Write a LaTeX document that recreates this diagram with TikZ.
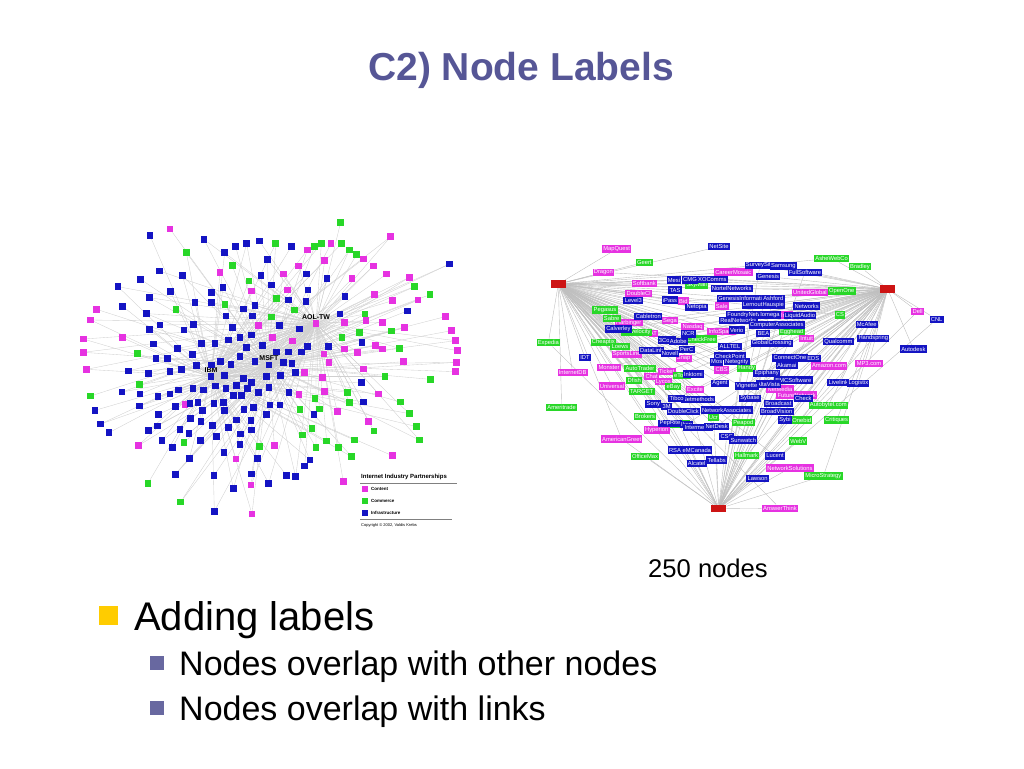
\documentclass[tikz,border=0pt]{standalone}
\usepackage{fontspec}
\setmainfont{Liberation Sans}
\usetikzlibrary{backgrounds}
\definecolor{titlecol}{RGB}{86,86,150}
\definecolor{subcol}{RGB}{104,104,160}
\definecolor{bulletyel}{RGB}{255,204,0}
\definecolor{pk}{RGB}{230,50,225}
\definecolor{gn}{RGB}{40,215,40}
\definecolor{bl}{RGB}{20,20,195}
\definecolor{hubred}{RGB}{205,20,20}
\tikzset{
  sq/.style={minimum size=6.5pt, inner sep=0pt},
  edge/.style={draw=gray!38, line width=0.35pt},
  redge/.style={draw=gray!50, line width=0.4pt},
  hublab/.style={font=\bfseries\fontsize{7}{7}\selectfont, inner sep=0.5pt},
  lab/.style={font=\fontsize{5.8}{6}\selectfont, text=white, inner xsep=1.3pt, inner ysep=0pt, minimum height=7.5pt},
  hub/.style={fill=hubred, minimum width=15pt, minimum height=7.5pt, inner sep=0pt},
  legtxt/.style={font=\bfseries\fontsize{4.5}{5}\selectfont, anchor=west, inner sep=0pt}
}
\def\pinkL{300/57, 962/80, 450/187, 640/192, 686/168, 712/120, 783/100, 764/152, 880/147, 910/168, 950/192, 1018/202, 846/206, 545/243, 652/240, 913/253, 968/272, 1044/270, 80/298, 62/330, 1126/320, 888/332, 937/337, 1004/353, 1144/362, 40/387, 157/383, 40/427, 566/347, 608/382, 668/393, 824/337, 823/417, 762/432, 777/458, 916/407, 938/417, 863/427, 1000/455, 1157/392, 1162/422, 1160/457, 1157/485, 50/478, 704/487, 757/502, 880/477, 687/553, 764/545, 926/552, 345/583, 802/605, 896/635, 205/707, 613/707, 498/747, 967/737, 543/825, 820/815, 546/912}
\def\greenL{812/37, 617/101, 734/109, 754/101, 815/101, 838/120, 860/133, 349/128, 487/167, 537/213, 620/265, 465/283, 674/300, 604/321, 318/298, 1034/230, 1080/254, 885/312, 816/383, 868/368, 965/363, 988/415, 203/431, 208/524, 62/558, 945/500, 1081/508, 832/547, 735/566, 838/577, 748/597, 690/598, 991/576, 1018/611, 1040/650, 1048/690, 912/663, 726/655, 698/675, 770/693, 853/690, 738/713, 806/712, 845/740, 342/698, 568/710, 234/820, 332/876}
\def\blueL{240/77, 402/88, 568/93, 530/101, 497/110, 464/128, 664/110, 593/148, 268/183, 337/196, 212/208, 144/230, 301/245, 239/263, 424/248, 459/233, 573/197, 604/225, 710/192, 771/205, 714/240, 655/270, 708/275, 825/260, 158/289, 230/311, 270/345, 238/358, 342/360, 371/343, 375/278, 425/278, 468/318, 487/352, 520/297, 555/286, 548/318, 628/347, 688/357, 810/312, 1012/303, 1139/162, 250/402, 322/415, 395/400, 435/400, 475/390, 510/382, 544/375, 577/406, 620/426, 656/426, 694/426, 712/410, 776/410, 876/398, 530/412, 258/445, 292/446, 368/434, 425/465, 451/455, 483/463, 510/440, 555/455, 640/458, 666/460, 175/483, 236/490, 300/485, 335/478, 380/467, 463/497, 520/505, 545/517, 590/500, 631/497, 676/487, 874/518, 156/546, 210/552, 264/560, 300/552, 326/540, 369/535, 400/540, 437/528, 468/535, 500/527, 532/536, 566/548, 597/533, 657/548, 208/588, 265/613, 316/590, 360/580, 384/578, 398/601, 432/580, 460/578, 490/557, 515/557, 522/598, 550/592, 600/585, 630/585, 881/576, 75/601, 92/642, 117/668, 236/661, 262/648, 362/625, 393/635, 427/647, 463/602, 500/630, 543/632, 590/614, 330/658, 357/670, 475/652, 512/672, 545/660, 276/692, 307/713, 391/691, 440/680, 510/703, 462/728, 358/745, 563/746, 316/793, 432/797, 490/836, 545/792, 596/820, 650/797, 677/800, 704/768, 720/750, 732/614, 433/904}
\def\pinkR{260/57/MapQuest, 220/127/Dragon, 610/126/CareerMosaic, 343/160/Softbank, 326/190/DoubleCl, 460/213/Bid, 575/228/Sale, 296/278/Harbinger, 420/272/Sega, 488/290/Nasdaq, 575/305/InfoSpace, 370/310/AT, 840/188/UnitedGlobal, 830/325/Intuit, 770/255/Intel, 290/373/SportsLine, 128/428/InternetDB, 237/412/Monster, 246/468/Universal, 365/440/Chat, 410/425/Ticket, 400/455/Lycos, 495/478/Excite, 461/385/Snap, 575/420/CBS, 897/408/Amazon.com, 1017/400/MP3.com, 1163/244/Dell, 380/600/Hyperion, 275/627/AmericanGreet, 780/714/NetworkSolutions, 750/477/NetMedia, 800/495/FutureNetwork, 750/835/AnswerThink}
\def\greenR{343/97/Geert, 905/85/AsheWebCo, 990/110/Bradley, 935/183/OpenOne, 500/165/SkyMall, 225/240/Pegasus, 245/265/Sabre, 55/338/Expedia, 220/337/Cheaptix, 320/307/Travelocity, 515/327/CheckFree, 270/350/Loews, 330/415/AutoTrader, 313/452/Dfish, 335/485/TARGET, 455/437/eToys, 430/470/eBay, 650/415/Handy, 785/305/Egghead, 930/255/CS, 95/533/Ameritrade, 345/560/Brokers, 450/582/Etrade, 550/563/Ucr, 640/578/Peapod, 815/570/Onebid, 920/570/Critiques, 895/526/Autobytel.com, 345/680/OfficeMax, 650/676/Hallmark, 805/633/WebV, 880/738/MicroStrategy}
\def\blueR{567/50/NetSite, 690/106/SurveySite, 760/108/Samsung, 825/127/FullSoftware, 715/140/Genesis, 432/150/Mesi, 480/150/CMG, 547/148/XOComms, 435/180/TAS, 605/176/NortelNetworks, 310/212/Level3, 640/205/GenesisInformation, 420/210/iPass, 730/205/Ashford, 500/232/Netopia, 700/225/LernoutHauspie, 830/228/Networks, 660/255/FoundryNetworks, 720/255/Iomega, 810/257/LiquidAudio, 355/260/Cabletron, 265/297/Calverley, 625/272/RealNetworks, 740/285/ComputerAssociates, 620/300/Verio, 475/312/NCR, 700/310/BEA, 410/330/3Com, 445/335/Adobe, 725/340/GlobalCrossing, 600/350/ALLTEL, 470/358/PerC, 365/362/DataLink, 600/378/CheckPoint, 420/370/Novell, 780/384/ConnectOne, 850/385/EDS, 560/396/Mos, 620/395/Netegrity, 770/405/Akamai, 490/432/Inktomi, 710/430/Epiphany, 790/450/BMCSoftware, 715/462/AltaVista, 570/460/Agent, 650/468/Vignette, 505/508/Netmethods, 440/506/Tibco, 370/522/Sony, 410/530/3M, 460/545/DoubleClick, 590/540/NetworkAssociates, 660/505/Sybase, 745/520/Broadcast, 740/545/BroadVision, 765/570/Sybi, 420/580/PepRite, 470/583/Ikon, 505/592/Intermedia, 560/590/NetDesk, 590/620/CSC, 640/630/Sunwatch, 480/660/RSA eMCanada, 560/690/Tellabs, 500/700/Alcatel, 735/678/Lucent, 683/745/Lawson, 1010/283/McAfee, 925/335/Qualcomm, 1030/325/Handspring, 1150/357/Autodesk, 1220/268/CNL, 165/383/IDT, 925/457/Livelink, 985/460/Logistix, 820/505/Check}
\begin{document}
\begin{tikzpicture}[x=1pt,y=-1pt]
  \useasboundingbox (0,0) rectangle (1024,768);
  \node[anchor=base, font=\bfseries\fontsize{39}{44}\selectfont, text=titlecol, inner sep=0pt] (title) at (521,81) {C2) Node Labels};

  % left picture
  \begin{scope}[shift={(70,210)}, scale=1/3]
    \node[sq, fill=bl, label={[hublab]above:IBM}] (h0) at (423,500) {};
    \node[sq, fill=bl, label={[hublab]above:MSFT}] (h1) at (597,465) {};
    \node[sq, fill=pk, label={[hublab]above:AOL-TW}] (h2) at (738,340) {};
    \foreach \x/\y [count=\i] in \pinkL {\node[sq, fill=pk] (p\i) at (\x,\y) {};}
    \foreach \x/\y [count=\i] in \greenL {\node[sq, fill=gn] (g\i) at (\x,\y) {};}
    \foreach \x/\y [count=\i] in \blueL {\node[sq, fill=bl] (b\i) at (\x,\y) {};}
    \begin{pgfonlayer}{background}
      \foreach \x/\y [count=\i] in \pinkL {
        \pgfmathtruncatemacro\k{mod(\i,3)}
        \pgfmathtruncatemacro\kk{mod(\i+1,3)}
        \draw[edge] (p\i) -- (h\k);
        \ifodd\i\else\draw[edge] (p\i) -- (h\kk);\fi
      }
      \foreach \x/\y [count=\i] in \greenL {
        \pgfmathtruncatemacro\k{mod(\i+1,3)}
        \pgfmathtruncatemacro\kk{mod(\i+2,3)}
        \draw[edge] (g\i) -- (h\k);
        \ifodd\i\else\draw[edge] (g\i) -- (h\kk);\fi
      }
      \foreach \x/\y [count=\i] in \blueL {
        \pgfmathtruncatemacro\k{mod(\i+2,3)}
        \pgfmathtruncatemacro\kk{mod(\i,3)}
        \draw[edge] (b\i) -- (h\k);
        \ifodd\i\else\draw[edge] (b\i) -- (h\kk);\fi
      }
    \end{pgfonlayer}
  \end{scope}

  % legend
  \node[legtxt, font=\bfseries\fontsize{6}{6}\selectfont] (legtitle) at (361,477) {Internet Industry Partnerships};
  \draw[gray, line width=0.4pt] (360,483) -- (457,483);
  \node[sq, fill=pk] (lc) at (365,489) {};
  \node[legtxt] (lct) at (371,489) {Content};
  \node[sq, fill=gn] (lm) at (365,501) {};
  \node[legtxt] (lmt) at (371,501) {Commerce};
  \node[sq, fill=bl] (li) at (365,513) {};
  \node[legtxt] (lit) at (371,513) {Infrastructure};
  \draw[gray, line width=0.4pt] (360,519) -- (452,519);
  \node[legtxt, font=\fontsize{4}{4}\selectfont] (copy) at (361,525) {Copyright © 2002, Valdis Krebs};

  % right picture
  \begin{scope}[shift={(530,230)}, scale=1/3]
    \node[hub] (q0) at (85,162) {};
    \node[hub] (q1) at (1073,177) {};
    \node[hub] (q2) at (566,836) {};
    \foreach \x/\y/\t [count=\i] in \pinkR {\node[lab, fill=pk] (pr\i) at (\x,\y) {\t};}
    \foreach \x/\y/\t [count=\i] in \greenR {\node[lab, fill=gn] (gr\i) at (\x,\y) {\t};}
    \foreach \x/\y/\t [count=\i] in \blueR {\node[lab, fill=bl] (br\i) at (\x,\y) {\t};}
    \begin{pgfonlayer}{background}
      \foreach \x/\y/\t [count=\i] in \pinkR {
        \pgfmathtruncatemacro\k{ifthenelse(\y>600,2,ifthenelse(\x<650,0,1))}
        \pgfmathtruncatemacro\kk{mod(\k+1,3)}
        \draw[redge] (pr\i) -- (q\k);
        \ifodd\i\else\draw[redge] (pr\i) -- (q\kk);\fi
      }
      \foreach \x/\y/\t [count=\i] in \greenR {
        \pgfmathtruncatemacro\k{ifthenelse(\y>600,2,ifthenelse(\x<650,0,1))}
        \pgfmathtruncatemacro\kk{mod(\k+2,3)}
        \draw[redge] (gr\i) -- (q\k);
        \ifodd\i\else\draw[redge] (gr\i) -- (q\kk);\fi
      }
      \foreach \x/\y/\t [count=\i] in \blueR {
        \pgfmathtruncatemacro\k{ifthenelse(\y>600,2,ifthenelse(\x<650,0,1))}
        \pgfmathtruncatemacro\kk{mod(\k+1,3)}
        \draw[redge] (br\i) -- (q\k);
        \ifodd\i\else\draw[redge] (br\i) -- (q\kk);\fi
      }
    \end{pgfonlayer}
  \end{scope}

  \node[anchor=base west, font=\fontsize{25.6}{30}\selectfont, inner sep=0pt] (count) at (648,577) {250 nodes};

  \node[fill=bulletyel, minimum size=19pt, inner sep=0pt] (b1) at (108,615) {};
  \node[anchor=base west, font=\fontsize{40}{48}\selectfont, inner sep=0pt] (t1) at (134,630) {Adding labels};
  \node[fill=subcol, minimum size=14pt, inner sep=0pt] (b2) at (157,663) {};
  \node[anchor=base west, font=\fontsize{34}{40}\selectfont, inner sep=0pt] (t2) at (179,675) {Nodes overlap with other nodes};
  \node[fill=subcol, minimum size=14pt, inner sep=0pt] (b3) at (157,708) {};
  \node[anchor=base west, font=\fontsize{34}{40}\selectfont, inner sep=0pt] (t3) at (179,720) {Nodes overlap with links};
\end{tikzpicture}
\end{document}
